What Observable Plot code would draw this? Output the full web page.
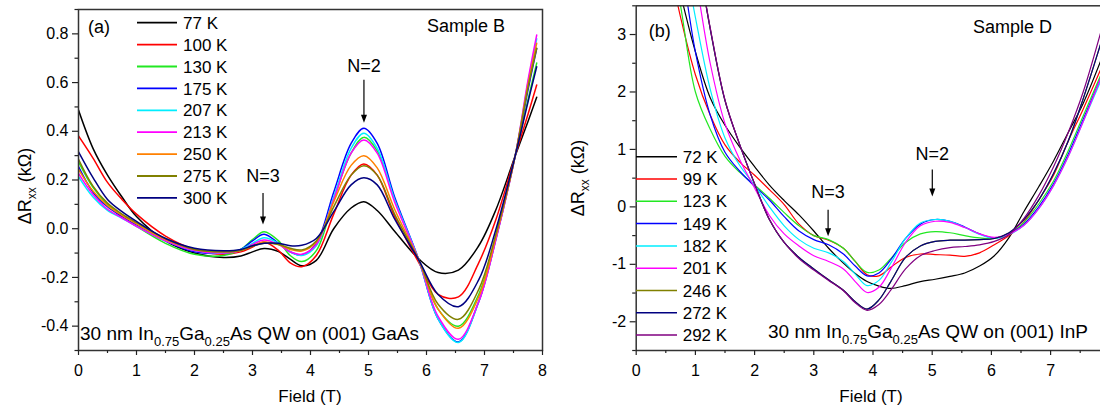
<!DOCTYPE html>
<html><head><meta charset="utf-8">
<script src="https://cdn.jsdelivr.net/npm/d3@7"></script>
<script src="https://cdn.jsdelivr.net/npm/@observablehq/plot@0.6"></script>
<style>
html,body{margin:0;padding:0;background:#fff;overflow:hidden;}
#wrap{position:relative;width:1100px;height:408px;overflow:hidden;background:#fff;}
#pa{position:absolute;left:0;top:0;width:560px;height:408px;}
#pb{position:absolute;left:560px;top:0;width:570px;height:408px;}
#wrap svg{max-width:none !important;}
svg text{font-family:"Liberation Sans",Arial,Helvetica,sans-serif;}
</style></head><body><div id="wrap"><div id="pa"></div><div id="pb"></div></div>
<script>
// ---------- Panel (a): Sample B, GaAs ----------
const fieldA = [0, 0.25, 0.5, 0.75, 1.0, 1.5, 2.0, 2.5, 2.8, 3.0, 3.2, 3.45, 3.65, 3.85, 4.1, 4.4, 4.7, 4.92, 5.15, 5.45, 5.87, 6.2, 6.55, 6.9, 7.2, 7.53, 7.75, 7.9];
const tempsA = ["77 K", "100 K", "130 K", "175 K", "207 K", "213 K", "250 K", "275 K", "300 K"];
const colorsA = ["#000000", "#ff0000", "#22e822", "#0000ff", "#00eeff", "#ff00ff", "#ff8000", "#808000", "#000080"];
const rA77  = [0.487, 0.33, 0.22, 0.13, 0.05, -0.05, -0.10, -0.118, -0.112, -0.095, -0.081, -0.094, -0.125, -0.152, -0.13, 0.0, 0.085, 0.111, 0.075, -0.01, -0.125, -0.18, -0.17, -0.07, 0.08, 0.30, 0.44, 0.54];
const rA100 = [0.381, 0.29, 0.19, 0.12, 0.06, -0.03, -0.085, -0.105, -0.095, -0.075, -0.055, -0.09, -0.14, -0.156, -0.11, 0.06, 0.22, 0.266, 0.22, 0.05, -0.14, -0.27, -0.28, -0.14, 0.04, 0.30, 0.47, 0.59];
const rA130 = [0.275, 0.17, 0.10, 0.05, 0.01, -0.06, -0.105, -0.11, -0.085, -0.045, -0.012, -0.05, -0.11, -0.135, -0.09, 0.12, 0.31, 0.375, 0.32, 0.12, -0.13, -0.33, -0.40, -0.27, -0.03, 0.30, 0.53, 0.68];
const rA175 = [0.255, 0.15, 0.09, 0.05, 0.015, -0.05, -0.095, -0.10, -0.085, -0.05, -0.023, -0.06, -0.095, -0.108, -0.06, 0.15, 0.35, 0.412, 0.35, 0.13, -0.13, -0.37, -0.465, -0.30, -0.04, 0.30, 0.57, 0.74];
const rA207 = [0.214, 0.13, 0.075, 0.043, 0.01, -0.05, -0.09, -0.10, -0.085, -0.06, -0.037, -0.06, -0.095, -0.11, -0.07, 0.13, 0.33, 0.392, 0.33, 0.12, -0.13, -0.37, -0.467, -0.30, -0.03, 0.30, 0.60, 0.78];
const rA213 = [0.227, 0.14, 0.08, 0.045, 0.01, -0.05, -0.09, -0.10, -0.09, -0.065, -0.046, -0.065, -0.095, -0.105, -0.065, 0.12, 0.31, 0.364, 0.31, 0.11, -0.13, -0.36, -0.454, -0.30, -0.04, 0.30, 0.61, 0.795];
const rA250 = [0.244, 0.155, 0.095, 0.055, 0.02, -0.045, -0.085, -0.095, -0.09, -0.07, -0.055, -0.065, -0.085, -0.092, -0.055, 0.11, 0.26, 0.30, 0.25, 0.08, -0.13, -0.33, -0.409, -0.28, -0.03, 0.30, 0.59, 0.761];
const rA275 = [0.285, 0.175, 0.105, 0.06, 0.025, -0.04, -0.085, -0.095, -0.09, -0.072, -0.06, -0.065, -0.08, -0.087, -0.05, 0.09, 0.22, 0.259, 0.22, 0.06, -0.13, -0.31, -0.372, -0.25, -0.02, 0.30, 0.58, 0.741];
const rA300 = [0.316, 0.21, 0.12, 0.07, 0.03, -0.04, -0.08, -0.09, -0.085, -0.07, -0.06, -0.06, -0.07, -0.068, -0.04, 0.07, 0.18, 0.209, 0.18, 0.04, -0.13, -0.27, -0.32, -0.21, 0.0, 0.30, 0.52, 0.665];
const seriesA = [rA77, rA100, rA130, rA175, rA207, rA213, rA250, rA275, rA300];
const yTicksA = [-0.4, -0.2, 0.0, 0.2, 0.4, 0.6, 0.8];
const yMinorA = [-0.5, -0.3, -0.1, 0.1, 0.3, 0.5, 0.7, 0.9];
const xTicksA = [0, 1, 2, 3, 4, 5, 6, 7, 8];

// ---------- Panel (b): Sample D, InP ----------
const fieldB = [0.5, 0.75, 1.0, 1.25, 1.5, 1.75, 2.0, 2.25, 2.5, 2.75, 3.0, 3.25, 3.5, 3.7, 3.9, 4.1, 4.3, 4.55, 4.8, 5.05, 5.3, 5.55, 5.8, 6.05, 6.3, 6.55, 6.8, 7.05, 7.3, 7.55, 7.85];
const tempsB = ["72 K", "99 K", "123 K", "149 K", "182 K", "201 K", "246 K", "272 K", "292 K"];
const colorsB = ["#000000", "#ff0000", "#22e822", "#0000ff", "#00eeff", "#ff00ff", "#808000", "#000080", "#800080"];
const rB72  = [4.8, 3.7, 2.7, 1.9, 1.42, 1.04, 0.7, 0.38, 0.11, -0.14, -0.42, -0.72, -0.98, -1.16, -1.3, -1.38, -1.42, -1.37, -1.3, -1.26, -1.21, -1.15, -1.03, -0.85, -0.53, -0.08, 0.35, 0.8, 1.3, 1.8, 2.55];
const rB99  = [4.5, 3.3, 2.3, 1.6, 1.08, 0.78, 0.55, 0.3, 0.04, -0.3, -0.5, -0.58, -0.72, -0.95, -1.18, -1.2, -1.05, -0.88, -0.82, -0.83, -0.84, -0.86, -0.8, -0.66, -0.5, -0.26, 0.12, 0.55, 1.15, 1.7, 2.4];
const rB123 = [5.0, 3.5, 2.0, 1.35, 0.88, 0.6, 0.38, 0.15, -0.1, -0.33, -0.5, -0.57, -0.72, -0.95, -1.14, -1.1, -0.9, -0.62, -0.47, -0.43, -0.45, -0.5, -0.54, -0.55, -0.47, -0.27, 0.05, 0.45, 0.98, 1.58, 2.3];
const rB149 = [5.6, 4.3, 2.7, 1.6, 0.95, 0.62, 0.36, 0.12, -0.17, -0.42, -0.57, -0.66, -0.82, -1.03, -1.2, -1.15, -0.92, -0.55, -0.3, -0.22, -0.25, -0.35, -0.47, -0.54, -0.47, -0.3, 0.0, 0.4, 0.92, 1.52, 2.25];
const rB182 = [6.0, 4.7, 3.3, 2.05, 1.2, 0.72, 0.38, 0.0, -0.33, -0.57, -0.72, -0.8, -0.95, -1.17, -1.37, -1.28, -0.98, -0.55, -0.28, -0.22, -0.25, -0.36, -0.48, -0.55, -0.48, -0.32, -0.03, 0.37, 0.88, 1.48, 2.2];
const rB201 = [6.5, 5.3, 4.0, 2.5, 1.45, 0.82, 0.33, -0.15, -0.47, -0.68, -0.85, -0.95, -1.08, -1.3, -1.49, -1.4, -1.08, -0.62, -0.33, -0.25, -0.27, -0.36, -0.47, -0.53, -0.47, -0.32, -0.03, 0.37, 0.88, 1.48, 2.25];
const rB246 = [7.2, 6.0, 4.6, 3.1, 1.85, 1.08, 0.4, -0.22, -0.62, -0.88, -1.08, -1.27, -1.45, -1.65, -1.78, -1.62, -1.3, -0.88, -0.68, -0.6, -0.58, -0.58, -0.57, -0.55, -0.45, -0.22, 0.12, 0.58, 1.15, 1.88, 2.85];
const rB272 = [7.2, 6.0, 4.6, 3.1, 1.85, 1.08, 0.4, -0.22, -0.62, -0.88, -1.08, -1.27, -1.45, -1.65, -1.78, -1.62, -1.3, -0.88, -0.68, -0.6, -0.58, -0.58, -0.57, -0.55, -0.45, -0.22, 0.12, 0.58, 1.15, 1.88, 2.85];
const rB292 = [7.2, 6.0, 4.6, 3.12, 1.86, 1.08, 0.4, -0.22, -0.62, -0.9, -1.1, -1.28, -1.46, -1.67, -1.8, -1.7, -1.45, -1.08, -0.85, -0.76, -0.71, -0.69, -0.66, -0.6, -0.48, -0.2, 0.2, 0.7, 1.3, 2.0, 3.05];
const seriesB = [rB72, rB99, rB123, rB149, rB182, rB201, rB246, rB272, rB292];
const yTicksB = [-2, -1, 0, 1, 2, 3];
const yMinorB = [-2.5, -1.5, -0.5, 0.5, 1.5, 2.5, 3.5];
const xTicksB = [0, 1, 2, 3, 4, 5, 6, 7];

const xMinor = [0.5, 1.5, 2.5, 3.5, 4.5, 5.5, 6.5, 7.5];

// annotations (data coordinates)
const annA = [
  {label: "N=3", x: 3.19, yText: 0.19, yTop: 0.145, yTip: 0.015},
  {label: "N=2", x: 4.93, yText: 0.643, yTop: 0.61, yTip: 0.433}
];
const annB = [
  {label: "N=3", x: 3.25, yText: 0.15, yTop: -0.057, yTip: -0.52},
  {label: "N=2", x: 5.01, yText: 0.81, yTop: 0.64, yTip: 0.174}
];

function panel(cfg) {
  const data = cfg.temps.flatMap((t, i) => cfg.series[i].map((v, j) => ({field: cfg.field[j], r: v, temp: t})));
  const plot = Plot.plot({
    width: cfg.width, height: 408,
    marginLeft: cfg.ml, marginRight: cfg.mr, marginTop: cfg.mt, marginBottom: 58,
    style: {fontFamily: '"Liberation Sans", Arial, sans-serif', fontSize: "16px", color: "#000", background: "transparent", overflow: "visible", maxWidth: "none"},
    x: {domain: [0, 8]},
    y: {domain: cfg.ydomain},
    color: {domain: cfg.temps, range: cfg.colors},
    marks: [
      Plot.line(data, {x: "field", y: "r", z: "temp", stroke: "temp", strokeWidth: cfg.sw, curve: "catmull-rom", clip: true}),
      Plot.frame({stroke: "#333", strokeWidth: 1.5}),
      Plot.axisX(cfg.xticks, {tickSize: 5, tickPadding: 9, label: null, fontSize: 16, stroke: "#222", strokeWidth: 1.2}),
      Plot.axisX(xMinor, {tickSize: 3, tickFormat: () => "", label: null, stroke: "#222", strokeWidth: 1.2}),
      Plot.axisY(cfg.yticks, {tickSize: 6, tickPadding: 4, label: null, fontSize: 16, tickFormat: cfg.yfmt, stroke: "#222", strokeWidth: 1.2}),
      Plot.axisY(cfg.yminor, {tickSize: 3.5, tickFormat: () => "", label: null, stroke: "#222", strokeWidth: 1.2})
    ]
  });
  const svg = d3.select(plot);
  const xs = plot.scale("x"), ys = plot.scale("y");
  // arrows and N labels
  cfg.ann.forEach(a => {
    const px = xs.apply(a.x);
    svg.append("text").attr("x", px).attr("y", ys.apply(a.yText)).attr("text-anchor", "middle")
      .attr("font-size", 18).attr("fill", "#000").text(a.label);
    const y0 = ys.apply(a.yTop), y1 = ys.apply(a.yTip);
    svg.append("line").attr("x1", px).attr("x2", px).attr("y1", y0).attr("y2", y1 - 6)
      .attr("stroke", "#000").attr("stroke-width", 1.2);
    svg.append("path").attr("d", `M${px - 3},${y1 - 8}L${px + 3},${y1 - 8}L${px},${y1}Z`).attr("fill", "#000");
  });
  // legend
  cfg.temps.forEach((t, i) => {
    const y = cfg.lg.y0 + cfg.lg.dy * i;
    svg.append("line").attr("x1", cfg.lg.x1).attr("x2", cfg.lg.x2).attr("y1", y).attr("y2", y)
      .attr("stroke", cfg.colors[i]).attr("stroke-width", cfg.sw + 0.3);
    svg.append("text").attr("x", cfg.lg.tx).attr("y", y).attr("dy", "0.36em").attr("font-size", 17)
      .attr("text-anchor", "start").attr("fill", "#000").text(t);
  });
  // panel letter and sample name
  svg.append("text").attr("x", cfg.letter.x).attr("y", cfg.letter.y).attr("font-size", 18)
    .attr("text-anchor", "start").text(cfg.letter.t);
  svg.append("text").attr("x", cfg.sample.x).attr("y", cfg.sample.y).attr("font-size", 18)
    .attr("text-anchor", "start").text(cfg.sample.t);
  // composition
  const c = svg.append("text").attr("x", cfg.comp.x).attr("y", cfg.comp.y).attr("font-size", 19)
    .attr("text-anchor", "start").attr("fill", "#000");
  c.append("tspan").text("30 nm In");
  c.append("tspan").attr("font-size", 13).attr("dy", 6).text("0.75");
  c.append("tspan").attr("dy", -6).text("Ga");
  c.append("tspan").attr("font-size", 13).attr("dy", 6).text("0.25");
  c.append("tspan").attr("dy", -6).text("As QW on (001) " + cfg.comp.sub);
  // axis labels
  svg.append("text").attr("x", cfg.xlab.x).attr("y", 402).attr("text-anchor", "middle").attr("font-size", 17).text("Field (T)");
  const yl = svg.append("text").attr("transform", `translate(${cfg.ylab.x},${cfg.ylab.y}) rotate(-90)`)
    .attr("text-anchor", "middle").attr("font-size", 18);
  yl.append("tspan").text("ΔR");
  yl.append("tspan").attr("font-size", 12).attr("dy", 5).text("xx");
  yl.append("tspan").attr("dy", -5).text(" (kΩ)");
  return plot;
}

document.getElementById("pa").appendChild(panel({
  width: 560, ml: 78, mr: 18, mt: 9, sw: 1.5,
  field: fieldA, temps: tempsA, colors: colorsA, series: seriesA, xticks: xTicksA,
  ydomain: [-0.5, 0.9], yticks: yTicksA, yminor: yMinorA, yfmt: d => d.toFixed(1),
  ann: annA,
  lg: {x1: 137, x2: 177, tx: 183, y0: 22.7, dy: 21.9},
  letter: {x: 88, y: 33, t: "(a)"},
  sample: {x: 427, y: 32, t: "Sample B"},
  comp: {x: 80, y: 340, sub: "GaAs"},
  xlab: {x: 310},
  ylab: {x: 31, y: 186}
}));

document.getElementById("pb").appendChild(panel({
  width: 570, ml: 75.7, mr: 20.7, mt: 5.3, sw: 1.2,
  field: fieldB, temps: tempsB, colors: colorsB, series: seriesB, xticks: xTicksB,
  ydomain: [-2.5, 3.5], yticks: yTicksB, yminor: yMinorB, yfmt: d => String(d),
  ann: annB,
  lg: {x1: 76, x2: 117, tx: 122.7, y0: 156.7, dy: 22.3},
  letter: {x: 88.7, y: 37, t: "(b)"},
  sample: {x: 413, y: 33, t: "Sample D"},
  comp: {x: 208, y: 338, sub: "InP"},
  xlab: {x: 311},
  ylab: {x: 24, y: 178}
}));
</script></body></html>
